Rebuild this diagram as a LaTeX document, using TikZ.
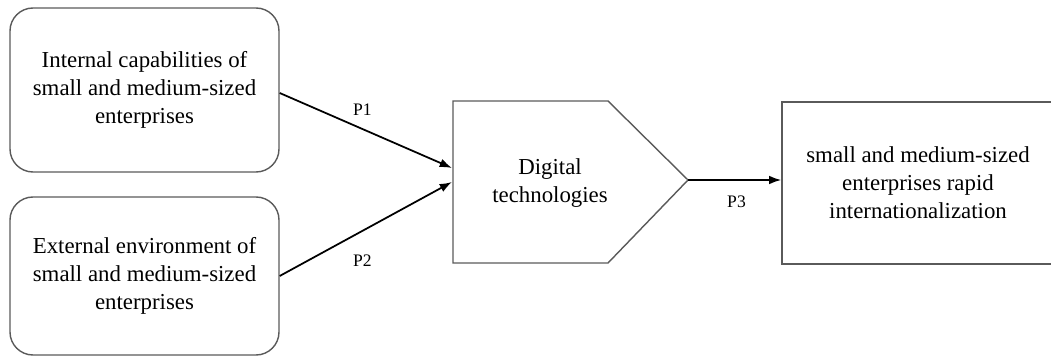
\documentclass[tikz,border=0pt]{standalone}
\usepackage{fontspec}
\setmainfont{Liberation Serif}
\usetikzlibrary{arrows.meta}
\definecolor{edgegray}{HTML}{5A5A5A}

\begin{document}
\begin{tikzpicture}[
    factor/.style={draw=edgegray, line width=0.8pt, rounded corners=0.46cm, align=center,
        minimum width=5.38cm, font=\fontsize{13}{16}\selectfont},
    result/.style={draw=edgegray, line width=0.8pt, align=center,
        minimum width=5.44cm, minimum height=3.24cm, font=\fontsize{13}{16}\selectfont},
    link/.style={-{Latex[length=7pt,width=5pt]}, line width=1pt},
    plabel/.style={font=\fontsize{10}{12}\selectfont}
  ]
    \useasboundingbox (0,0) rectangle (21.02,7.16);

    \node [factor, minimum height=3.28cm] (inner) at (2.89,5.36)
        {Internal capabilities of\\small and medium-sized\\enterprises};
    \node [factor, minimum height=3.16cm] (outer) at (2.89,1.64)
        {External environment of\\small and medium-sized\\enterprises};

    \coordinate (dt nw) at (9.06,5.14);
    \coordinate (dt sw) at (9.06,1.90);
    \coordinate (dt tip) at (13.76,3.56);
    \draw [edgegray, line width=0.8pt] (dt nw) -- (12.16,5.14) -- (dt tip)
        -- (12.16,1.90) -- (dt sw) -- cycle;
    \node [align=center, font=\fontsize{13}{16}\selectfont] (digital) at (11.00,3.50)
        {Digital\\technologies};
    \coordinate (dt in1) at (9.04,3.80);
    \coordinate (dt in2) at (9.04,3.52);

    \node [result] (rapid) at (18.36,3.50)
        {small and medium-sized\\enterprises rapid\\internationalization};

    \draw [link] ([yshift=-0.06cm]inner.east) -- (dt in1) node[plabel, pos=0.48, above=4pt] {P1};
    \draw [link] (outer.east) -- (dt in2) node[plabel, pos=0.48, below=10pt] {P2};
    \draw [link] (dt tip) -- (dt tip -| rapid.west) node[plabel, pos=0.52, below=5pt] {P3};
\end{tikzpicture}
\end{document}
